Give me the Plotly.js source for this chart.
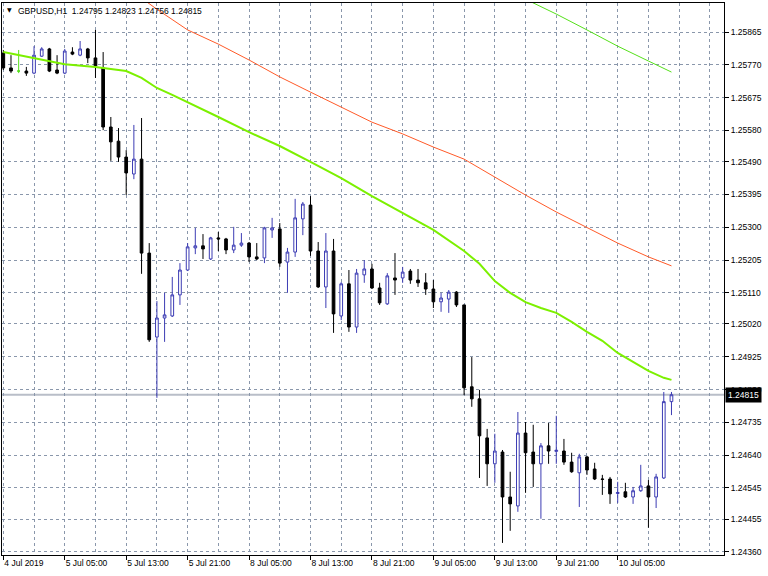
<!DOCTYPE html>
<html>
<head>
<meta charset="utf-8">
<script src="https://cdn.plot.ly/plotly-3.0.1.min.js"></script>
<style>html,body{margin:0;padding:0;background:#fff;}#chart{width:768px;height:576px;}</style>
</head>
<body>
<div id="chart"></div>
<script>
// ---- data (GBPUSD H1, 4 Jul 2019 21:00 -> 10 Jul 2019 12:00) ----
const opens = [1.25804,1.25761,1.25752,1.25752,1.25746,1.25795,1.25816,1.25755,1.25746,1.25807,
1.25798,1.25816,1.25790,1.25761,1.25590,1.25549,1.25503,1.25454,1.25497,1.25225,
1.24982,1.25037,1.25043,1.25104,1.25176,1.25240,1.25246,1.25208,1.25269,1.25266,
1.25234,1.25248,1.25254,1.25214,1.25211,1.25292,1.25295,1.25199,1.25228,1.25324,
1.25364,1.25231,1.25127,1.25231,1.25043,1.25136,1.25011,1.25162,1.25179,1.25124,
1.25078,1.25153,1.25153,1.25173,1.25147,1.25139,1.25121,1.25084,1.25092,1.25112,
1.25075,1.24838,1.24803,1.24690,1.24615,1.24649,1.24519,1.24493,1.24704,1.24649,
1.24615,1.24667,1.24651,1.24652,1.24620,1.24589,1.24635,1.24600,1.24571,1.24571,
1.24529,1.24534,1.24519,1.24537,1.24551,1.24519,1.24574,1.24795];
const highs = [1.25813,1.25798,1.25813,1.25764,1.25824,1.25821,1.25819,1.25798,1.25816,1.25821,
1.25839,1.25819,1.25871,1.25807,1.25619,1.25587,1.25523,1.25596,1.25616,1.25254,
1.25086,1.25110,1.25156,1.25196,1.25254,1.25298,1.25280,1.25272,1.25286,1.25269,
1.25301,1.25283,1.25257,1.25254,1.25301,1.25327,1.25312,1.25240,1.25382,1.25373,
1.25390,1.25257,1.25283,1.25266,1.25141,1.25176,1.25179,1.25205,1.25194,1.25139,
1.25167,1.25225,1.25185,1.25179,1.25179,1.25167,1.25147,1.25110,1.25118,1.25115,
1.25075,1.24924,1.24829,1.24716,1.24702,1.24655,1.24592,1.24765,1.24736,1.24728,
1.24675,1.24733,1.24754,1.24687,1.24647,1.24644,1.24638,1.24618,1.24583,1.24577,
1.24563,1.24560,1.24548,1.24612,1.24568,1.24586,1.24823,1.24823];
const lows = [1.25755,1.25746,1.25746,1.25738,1.25743,1.25793,1.25749,1.25743,1.25743,1.25798,
1.25795,1.25775,1.25732,1.25581,1.25492,1.25489,1.25393,1.25439,1.25165,1.24968,
1.24806,1.24968,1.25040,1.25075,1.25173,1.25222,1.25208,1.25205,1.25231,1.25222,
1.25225,1.25243,1.25199,1.25205,1.25196,1.25269,1.25185,1.25110,1.25214,1.25277,
1.25217,1.25124,1.25066,1.24994,1.25031,1.24997,1.24994,1.25139,1.25121,1.25075,
1.25075,1.25104,1.25139,1.25136,1.25127,1.25104,1.25066,1.25055,1.25052,1.25069,
1.24814,1.24780,1.24574,1.24551,1.24560,1.24386,1.24421,1.24476,1.24531,1.24548,
1.24456,1.24615,1.24615,1.24612,1.24589,1.24490,1.24583,1.24568,1.24525,1.24499,
1.24502,1.24516,1.24499,1.24534,1.24430,1.24487,1.24571,1.24756];
const closes = [1.25761,1.25752,1.25752,1.25746,1.25798,1.25816,1.25752,1.25746,1.25810,1.25801,
1.25816,1.25790,1.25767,1.25590,1.25547,1.25503,1.25457,1.25497,1.25225,1.24974,
1.25037,1.25046,1.25104,1.25176,1.25243,1.25246,1.25237,1.25269,1.25266,1.25234,
1.25248,1.25254,1.25214,1.25208,1.25298,1.25298,1.25196,1.25228,1.25327,1.25367,
1.25231,1.25127,1.25231,1.25049,1.25136,1.25011,1.25167,1.25179,1.25124,1.25081,
1.25159,1.25147,1.25170,1.25147,1.25139,1.25121,1.25084,1.25095,1.25112,1.25075,
1.24835,1.24803,1.24696,1.24615,1.24652,1.24519,1.24499,1.24704,1.24647,1.24615,
1.24667,1.24652,1.24654,1.24620,1.24592,1.24635,1.24597,1.24571,1.24570,1.24528,
1.24532,1.24519,1.24537,1.24551,1.24519,1.24577,1.24795,1.24815];

// moving averages (bar index -> value)
const maFastBars = [0,4,8,12,16,18,20,22,24,28,32,36,40,44,48,52,56,60,62,64,66,68,70,72,74,76,78,80,82,84,86,87];
const maFastVals = [1.25807,1.25790,1.25772,1.25764,1.25752,1.25732,1.25703,1.25683,1.25662,1.25619,1.25575,1.25535,1.25489,1.25442,1.25390,1.25341,1.25292,1.25231,1.25194,1.25144,1.25110,1.25083,1.25066,1.25052,1.25026,1.24997,1.24971,1.24936,1.24910,1.24884,1.24864,1.24858];
const maMidBars = [16,18,20,24,28,32,36,40,44,48,52,56,60,64,68,72,76,80,84,87];
const maMidVals = [1.25995,1.25963,1.25931,1.25871,1.25830,1.25784,1.25735,1.25691,1.25648,1.25604,1.25570,1.25532,1.25497,1.25445,1.25393,1.25344,1.25298,1.25254,1.25214,1.25188];
const maSlowBars = [68,72,76,80,84,87];
const maSlowVals = [1.25960,1.25917,1.25871,1.25824,1.25781,1.25749];

const timeLabels = ["4 Jul 2019","5 Jul 05:00","5 Jul 13:00","5 Jul 21:00","8 Jul 05:00","8 Jul 13:00","8 Jul 21:00","9 Jul 05:00","9 Jul 13:00","9 Jul 21:00","10 Jul 05:00"];
const priceLabels = ["1.25865","1.25770","1.25675","1.25580","1.25490","1.25395","1.25300","1.25205","1.25110","1.25020","1.24925","1.24830","1.24735","1.24640","1.24545","1.24455","1.24360"];
const symbolText = "GBPUSD,H1";
const lastBid = 1.24815;

// ---- build ----
const bars = opens.map((_, i) => i);
const isDoji = opens.map((o, i) => o === closes[i]);
const pick = (arr, want) => arr.map((v, i) => (isDoji[i] === want ? v : null));
const labelBars = timeLabels.map((_, k) => k * 8);
const minorBars = [];
for (let b = 4; b <= 92; b += 4) if (!labelBars.includes(b)) minorBars.push(b);

const FONT = 'Liberation Sans, Arial, sans-serif';
const GRID = '#8a97ab';
const BULL = '#3c3cb4';
const LINECOL = '#55e01a';

const traces = [
  {
    type: 'candlestick', x: bars,
    open: pick(opens, false), high: pick(highs, false), low: pick(lows, false), close: pick(closes, false),
    increasing: {line: {color: BULL, width: 1}, fillcolor: '#ffffff'},
    decreasing: {line: {color: '#000000', width: 1}, fillcolor: '#000000'},
    whiskerwidth: 0, hoverinfo: 'skip', showlegend: false
  },
  {
    type: 'candlestick', x: bars,
    open: pick(opens, true), high: pick(highs, true), low: pick(lows, true), close: pick(closes, true),
    increasing: {line: {color: LINECOL, width: 1}, fillcolor: LINECOL},
    decreasing: {line: {color: LINECOL, width: 1}, fillcolor: LINECOL},
    whiskerwidth: 0, hoverinfo: 'skip', showlegend: false
  },
  {type: 'scatter', mode: 'lines', x: maMidBars, y: maMidVals, line: {color: '#ff5a28', width: 1}, hoverinfo: 'skip', showlegend: false},
  {type: 'scatter', mode: 'lines', x: maSlowBars, y: maSlowVals, line: {color: LINECOL, width: 1}, hoverinfo: 'skip', showlegend: false},
  {type: 'scatter', mode: 'lines', x: maFastBars, y: maFastVals, line: {color: '#7cf000', width: 2}, hoverinfo: 'skip', showlegend: false}
];

const layout = {
  width: 768, height: 576,
  margin: {l: 2, r: 44, t: 3, b: 21, pad: 0},
  paper_bgcolor: '#ffffff', plot_bgcolor: '#ffffff',
  showlegend: false,
  boxgap: 0.5,
  title: {
    text: symbolText + '\u00a0\u00a0' + [opens[87], highs[87], lows[87], closes[87]].map(v => v.toFixed(5)).join(' '),
    font: {family: FONT, size: 8.5, color: '#000000'},
    xref: 'container', yref: 'container',
    x: 18 / 768, xanchor: 'left', y: 1 - 11 / 576, yanchor: 'middle'
  },
  xaxis: {
    range: [-0.17, 93.84], fixedrange: true,
    rangeslider: {visible: false},
    tickmode: 'array', tickvals: labelBars, ticktext: timeLabels,
    ticklabelposition: 'outside right',
    ticks: 'outside', ticklen: 4, tickcolor: '#000000', tickwidth: 1,
    tickfont: {family: FONT, size: 8.5, color: '#000000'},
    showgrid: true, gridcolor: GRID, griddash: '3px,3px', gridwidth: 1,
    minor: {tickmode: 'array', tickvals: minorBars, showgrid: true, gridcolor: GRID, griddash: '3px,3px', gridwidth: 1, ticks: ''},
    showline: true, linecolor: '#000000', linewidth: 1, mirror: true, zeroline: false
  },
  yaxis: {
    side: 'right', range: [1.24351, 1.25949], fixedrange: true,
    tickmode: 'array', tickvals: priceLabels.map(Number), ticktext: priceLabels,
    ticks: 'outside', ticklen: 4, tickcolor: '#000000', tickwidth: 1,
    tickfont: {family: FONT, size: 8.5, color: '#000000'},
    showgrid: true, gridcolor: GRID, griddash: '3px,3px', gridwidth: 1,
    showline: true, linecolor: '#000000', linewidth: 1, mirror: true, zeroline: false
  },
  shapes: [
    {type: 'line', xref: 'paper', x0: 0, x1: 1, yref: 'y', y0: lastBid, y1: lastBid,
     line: {color: '#b9bec8', width: 2}, layer: 'between'}
  ],
  annotations: [
    {xref: 'paper', yref: 'paper', x: 7 / 722, y: 1 - 7 / 552, text: '\u25BC', showarrow: false,
     font: {family: 'DejaVu Sans', size: 6, color: '#000000'}, xanchor: 'center', yanchor: 'middle'},
    {xref: 'paper', yref: 'y', x: 1, y: lastBid, xanchor: 'left', yanchor: 'middle', xshift: 1,
     text: lastBid.toFixed(5), showarrow: false, bgcolor: '#000000', borderpad: 2,
     font: {family: FONT, size: 8.5, color: '#ffffff'}}
  ]
};

Plotly.newPlot('chart', traces, layout, {staticPlot: true, displayModeBar: false});
</script>
</body>
</html>
